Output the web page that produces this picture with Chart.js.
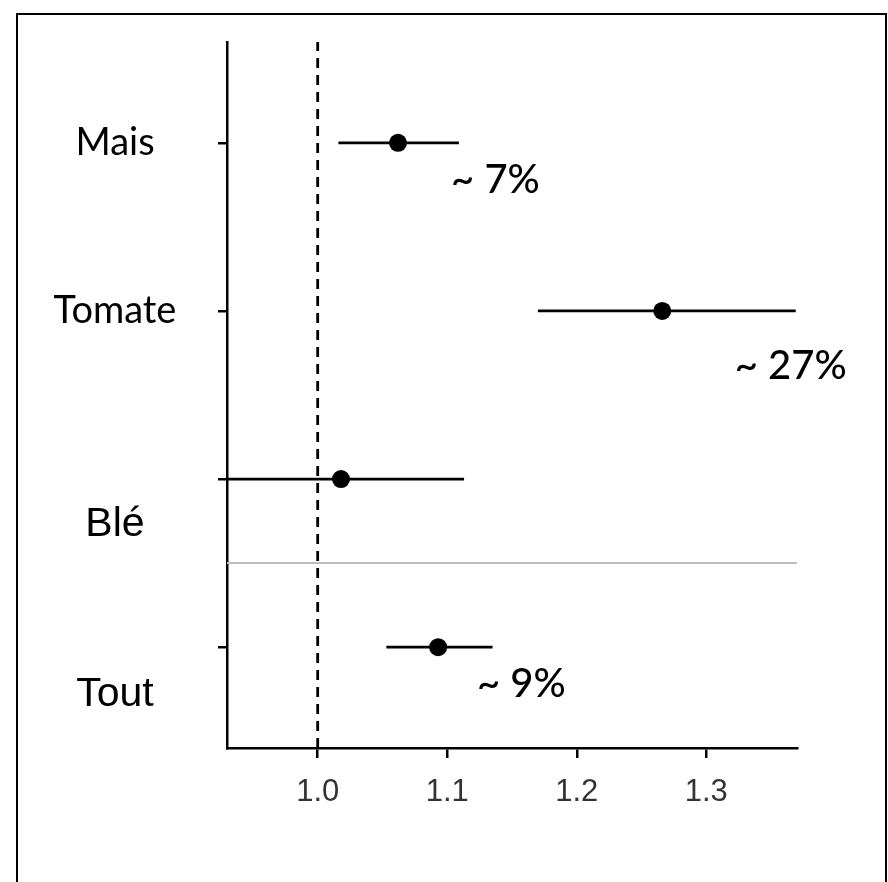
<!DOCTYPE html>
<html>
<head>
  <title>Forest plot</title>
  <script src="https://cdn.jsdelivr.net/npm/chart.js"></script>
  <style>
    body { margin: 0; background: #fff; }
    #wrap { width: 888px; height: 882px; }
  </style>
</head>
<body>
<div id="wrap"><canvas id="chart" width="888" height="882"></canvas></div>
<script>
// data
var categories = ['Mais', 'Tomate', 'Blé', 'Tout'];
var estimates = [1.062, 1.266, 1.018, 1.093];
var lower = [1.016, 1.170, 0.92, 1.053];
var upper = [1.109, 1.369, 1.113, 1.135];
var pctLabels = ['~ 7%', '~ 27%', '', '~ 9%'];
var xTicks = [1.0, 1.1, 1.2, 1.3];

// annotation anchors (data units)
var pctX = [1.103, 1.322, null, 1.123];
var pctY = [3.78, 2.67, null, 0.78];
var catLabelY = [4, 3, 1.73, 0.72];
var catFonts = ['38px Lato', '38px Lato', '41px "Liberation Sans", Arial', '41px "Liberation Sans", Arial'];

var rows = categories.map(function (c, i) { return categories.length - i; });
var X_MIN = 0.93, X_MAX = 1.37, Y_MIN = 0.4, Y_MAX = 4.6;

var datasets = [];
// reference line at 1.0
datasets.push({
  data: [{x: 1.0, y: Y_MIN}, {x: 1.0, y: Y_MAX}],
  borderColor: '#000', borderWidth: 2.8, borderDash: [10, 7], pointRadius: 0
});
// separator between Blé and Tout
datasets.push({
  data: [{x: X_MIN, y: 1.5}, {x: X_MAX, y: 1.5}],
  borderColor: '#bdbdbd', borderWidth: 2, pointRadius: 0
});
// confidence intervals
for (var i = 0; i < categories.length; i++) {
  datasets.push({
    data: [{x: lower[i], y: rows[i]}, {x: upper[i], y: rows[i]}],
    borderColor: '#000', borderWidth: 2.8, pointRadius: 0
  });
}
// point estimates
datasets.push({
  data: estimates.map(function (v, i) { return {x: v, y: rows[i]}; }),
  showLine: false, pointRadius: 9, pointBackgroundColor: '#000', pointBorderWidth: 0
});

var labelsPlugin = {
  id: 'labelsPlugin',
  beforeDraw: function (chart) {
    var ctx = chart.ctx;
    ctx.save();
    ctx.fillStyle = '#fff';
    ctx.fillRect(0, 0, chart.width, chart.height);
    ctx.strokeStyle = '#000';
    ctx.lineWidth = 2;
    ctx.beginPath();
    ctx.moveTo(17, 882);
    ctx.lineTo(17, 14);
    ctx.lineTo(886, 14);
    ctx.lineTo(886, 882);
    ctx.stroke();
    ctx.restore();
  },
  afterDraw: function (chart) {
    var ctx = chart.ctx;
    var xs = chart.scales.x, ys = chart.scales.y;
    ctx.save();
    ctx.fillStyle = '#000';
    ctx.textBaseline = 'middle';
    ctx.textAlign = 'center';
    categories.forEach(function (c, i) {
      ctx.font = catFonts[i];
      ctx.fillText(c, 115, ys.getPixelForValue(catLabelY[i]));
    });
    ctx.textAlign = 'left';
    ctx.font = '500 40px Lato';
    pctLabels.forEach(function (t, i) {
      if (!t) return;
      ctx.fillText(t, xs.getPixelForValue(pctX[i]), ys.getPixelForValue(pctY[i]));
    });
    ctx.restore();
  }
};

new Chart(document.getElementById('chart'), {
  type: 'line',
  data: { datasets: datasets },
  options: {
    responsive: false,
    animation: false,
    layout: { padding: { left: 0, right: 91, top: 42, bottom: 0 } },
    plugins: { legend: { display: false }, tooltip: { enabled: false } },
    scales: {
      x: {
        type: 'linear', min: X_MIN, max: X_MAX,
        afterBuildTicks: function (s) { s.ticks = xTicks.map(function (v) { return {value: v}; }); },
        afterFit: function (s) { s.height = 134; },
        border: { color: '#000', width: 2.5 },
        grid: { drawOnChartArea: false, tickLength: 10, color: '#000', lineWidth: 2.5 },
        ticks: {
          color: '#333', padding: 16,
          font: { family: '"Liberation Sans", Arial', size: 31 },
          callback: function (v) { return v.toFixed(1); }
        }
      },
      y: {
        type: 'linear', min: Y_MIN, max: Y_MAX,
        afterBuildTicks: function (s) { s.ticks = rows.map(function (v) { return {value: v}; }); },
        afterFit: function (s) { s.width = 227; },
        border: { color: '#000', width: 2.5 },
        grid: { drawOnChartArea: false, tickLength: 9, color: '#000', lineWidth: 2.5 },
        ticks: { display: false }
      }
    }
  },
  plugins: [labelsPlugin]
});
</script>
</body>
</html>
